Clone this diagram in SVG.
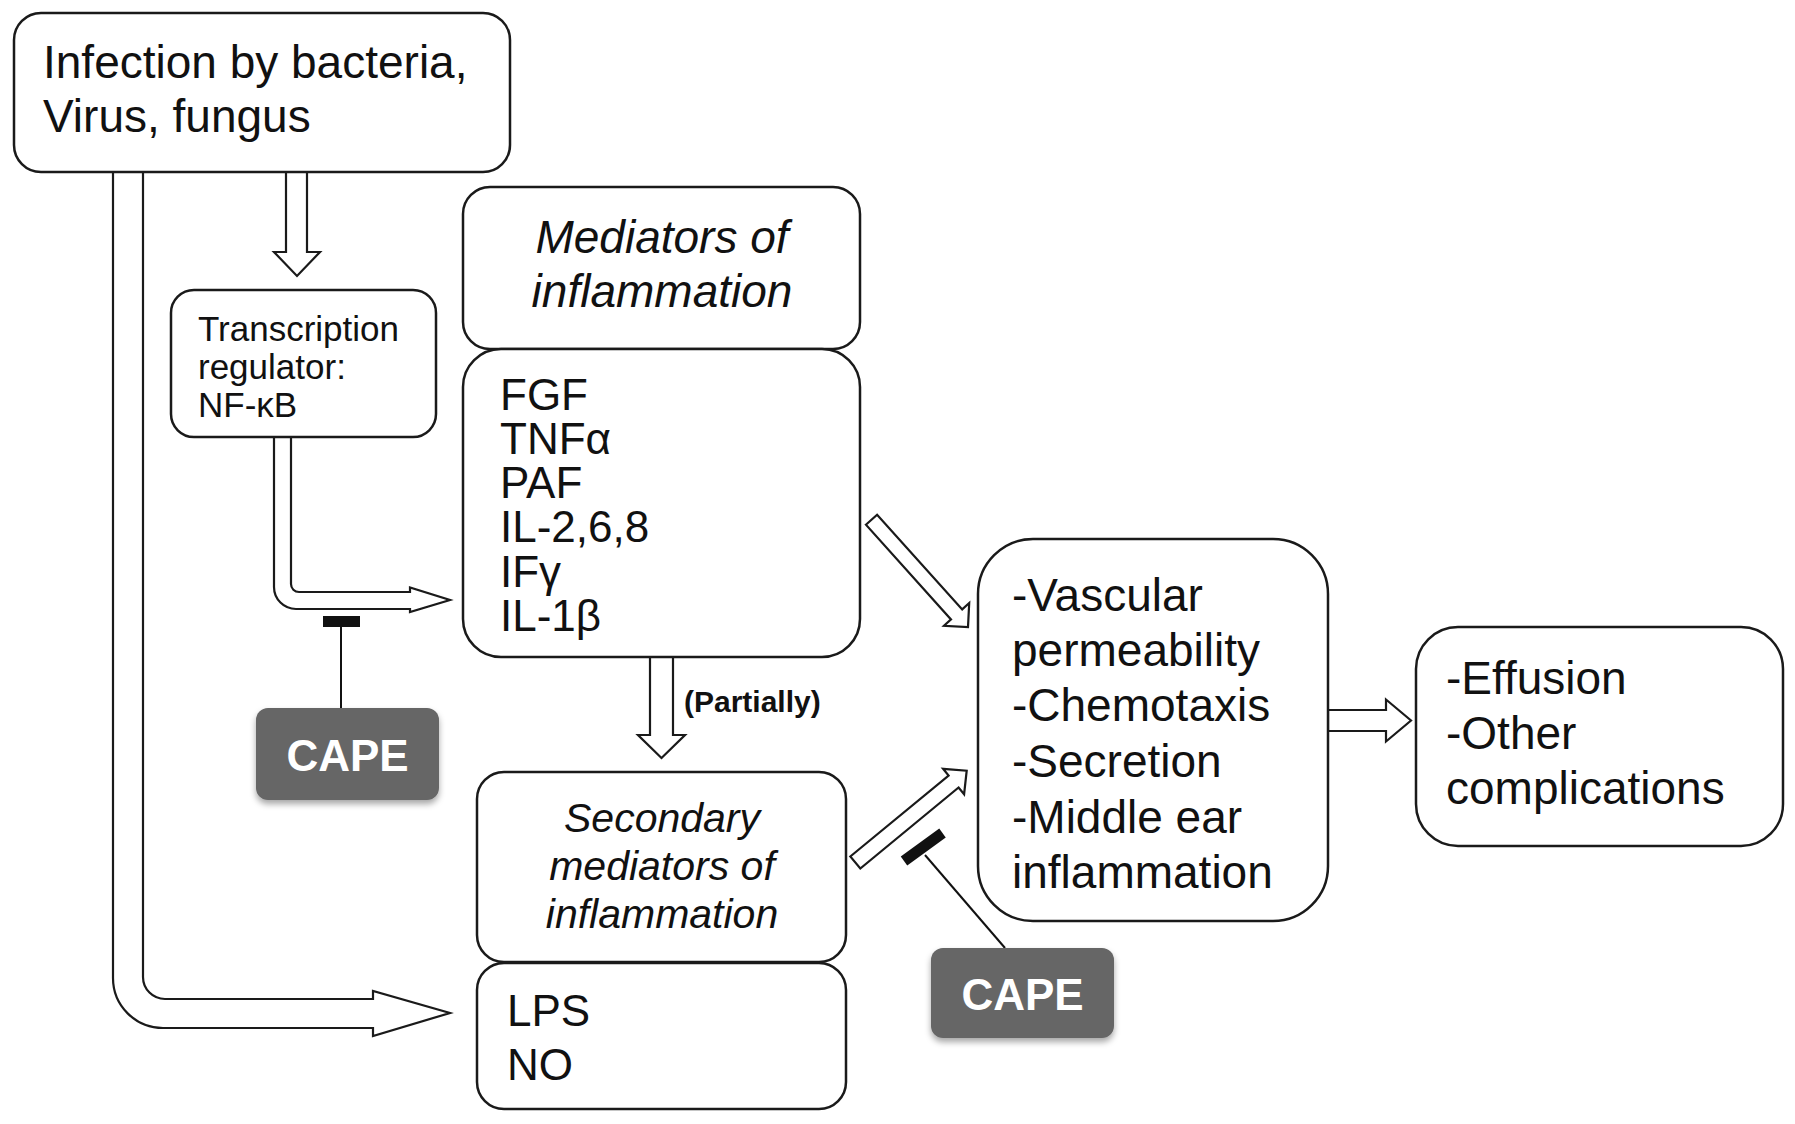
<svg xmlns="http://www.w3.org/2000/svg" width="1795" height="1124" viewBox="0 0 1795 1124">
<defs>
<style>
.box{fill:#fff;stroke:#1a1a1a;stroke-width:2.5}
.arr{fill:#fff;stroke:#1a1a1a;stroke-width:2.2;stroke-linejoin:miter}
.t{font-family:"Liberation Sans",Arial,Helvetica,sans-serif;fill:#111}
.it{font-style:italic}
.cape{fill:#666;filter:url(#sh)}
.capet{font-family:"Liberation Sans",Arial,Helvetica,sans-serif;font-weight:bold;font-size:44px;fill:#fff;text-anchor:middle}
.inh{stroke:#111;stroke-width:2}
</style>
<filter id="sh" x="-20%" y="-20%" width="140%" height="150%">
<feDropShadow dx="0" dy="4" stdDeviation="3" flood-color="#000" flood-opacity="0.35"/>
</filter>
</defs>
<rect width="1795" height="1124" fill="#fff"/>

<g id="connectors">
<path class="arr" d="M286,172 L307,172 L307,252 L320,252 L297,276 L274,252 L286,252 Z"/>
<path class="arr" d="M113,172 L113,978 A50,50 0 0 0 163,1028 L373,1028 L373,1036 L450,1013 L373,991 L373,999 L165,999 A22,22 0 0 1 143,977 L143,172 Z"/>
<path class="arr" d="M274,437 L274,587 A22,22 0 0 0 296,609 L410,609 L410,612 L450,600 L410,587.5 L410,592 L299,592 A8,8 0 0 1 291,584 L291,437 Z"/>
<path class="arr" d="M650,657 L650,735 L638,735 L661.5,758 L685,735 L673,735 L673,657 Z"/>
<path class="arr" d="M1328,710 L1386,710 L1386,699.5 L1411,720.5 L1386,741.5 L1386,731 L1328,731 Z"/>
<polygon class="arr" points="865.9,524.7 877.1,514.7 962.2,609.4 969.2,603 968,627 944,625.8 951,619.4"/>
<polygon class="arr" points="850.3,856.5 948.6,775.5 943.1,768.8 966.7,770.7 964.1,794.2 958.6,787.5 860.3,868.5"/>
<rect x="323" y="616" width="37" height="11" fill="#111"/>
<line class="inh" x1="341" y1="627" x2="341" y2="708"/>
<line x1="904" y1="861" x2="942.5" y2="833" stroke="#111" stroke-width="11"/>
<line class="inh" x1="925" y1="855" x2="1005" y2="948"/>
</g>

<g id="infection">
<rect class="box" x="14" y="13" width="496" height="159" rx="27"/>
<text class="t" font-size="46" x="43" y="78">Infection by bacteria,</text>
<text class="t" font-size="46" x="43" y="132">Virus, fungus</text>
</g>

<g id="nfkb">
<rect class="box" x="171" y="290" width="265" height="147" rx="23"/>
<text class="t" font-size="35" x="198" y="341">Transcription</text>
<text class="t" font-size="35" x="198" y="379">regulator:</text>
<text class="t" font-size="35" x="198" y="417">NF-κB</text>
</g>

<g id="mediators">
<rect class="box" x="463" y="187" width="397" height="162" rx="27"/>
<text class="t it" font-size="46" x="662" y="253" text-anchor="middle">Mediators of</text>
<text class="t it" font-size="46" x="662" y="307" text-anchor="middle">inflammation</text>
</g>

<g id="mediator-list">
<rect class="box" x="463" y="349" width="397" height="308" rx="38"/>
<text class="t" font-size="44" x="500" y="410">FGF</text>
<text class="t" font-size="44" x="500" y="454">TNFα</text>
<text class="t" font-size="44" x="500" y="498">PAF</text>
<text class="t" font-size="44" x="500" y="542">IL-2,6,8</text>
<text class="t" font-size="44" x="500" y="587">IFγ</text>
<text class="t" font-size="44" x="500" y="631">IL-1β</text>
</g>

<g id="partially">
<text class="t" font-size="30" font-weight="bold" x="684" y="712">(Partially)</text>
</g>

<g id="secondary">
<rect class="box" x="477" y="772" width="369" height="190" rx="27"/>
<text class="t it" font-size="41" x="662" y="832" text-anchor="middle">Secondary</text>
<text class="t it" font-size="41" x="662" y="880" text-anchor="middle">mediators of</text>
<text class="t it" font-size="41" x="662" y="928" text-anchor="middle">inflammation</text>
</g>

<g id="lps">
<rect class="box" x="477" y="963" width="369" height="146" rx="27"/>
<text class="t" font-size="44" x="507" y="1026">LPS</text>
<text class="t" font-size="44" x="507" y="1080">NO</text>
</g>

<g id="effects">
<rect class="box" x="978" y="539" width="350" height="382" rx="55"/>
<text class="t" font-size="46" x="1012" y="611">-Vascular</text>
<text class="t" font-size="46" x="1012" y="666">permeability</text>
<text class="t" font-size="46" x="1012" y="721">-Chemotaxis</text>
<text class="t" font-size="46" x="1012" y="777">-Secretion</text>
<text class="t" font-size="46" x="1012" y="833">-Middle ear</text>
<text class="t" font-size="46" x="1012" y="888">inflammation</text>
</g>

<g id="outcome">
<rect class="box" x="1416" y="627" width="367" height="219" rx="42"/>
<text class="t" font-size="46" x="1446" y="694">-Effusion</text>
<text class="t" font-size="46" x="1446" y="749">-Other</text>
<text class="t" font-size="46" x="1446" y="804">complications</text>
</g>

<g id="cape1">
<rect class="cape" x="256" y="708" width="183" height="92" rx="12"/>
<text class="capet" x="347.5" y="771">CAPE</text>
</g>

<g id="cape2">
<rect class="cape" x="931" y="948" width="183" height="90" rx="12"/>
<text class="capet" x="1022.5" y="1010">CAPE</text>
</g>
</svg>
